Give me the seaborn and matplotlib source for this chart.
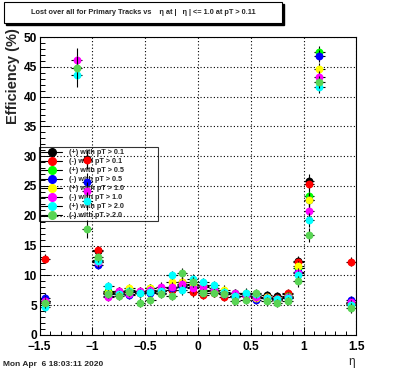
import matplotlib
matplotlib.use('Agg')
import matplotlib.pyplot as plt
import matplotlib.patches as patches
from matplotlib.lines import Line2D
import numpy as np
import pandas as pd
import seaborn as sns

nan = np.nan

# bin centres in eta
eta = [-1.45, -1.35, -1.25, -1.15, -1.05, -0.95, -0.85, -0.75, -0.65, -0.55,
       -0.45, -0.35, -0.25, -0.15, -0.05, 0.05, 0.15, 0.25, 0.35, 0.45,
       0.55, 0.65, 0.75, 0.85, 0.95, 1.05, 1.15, 1.25, 1.35, 1.45]
eta_err = [0.8, 0, 0, 2.0, 1.5, 0.8, 0.7, 0.7, 0.7, 0.7,
           0.7, 0.7, 0.7, 0.8, 0.8, 0.7, 0.7, 0.7, 0.7, 0.7,
           0.7, 0.7, 0.7, 0.7, 0.9, 1.2, 1.0, 0, 0, 0.8]

pos_01 = [5.6, nan, nan, nan, 29.6, 14.1, 7.2, 7.1, 7.3, 7.2,
          7.3, 7.5, 7.6, 8.2, 8.0, 7.4, 7.3, 7.0, 6.6, 6.8,
          6.4, 6.7, 6.5, 6.9, 12.4, 25.8, nan, nan, nan, 5.3]
neg_01 = [12.8, nan, nan, nan, 29.3, 14.2, 7.0, 7.4, 7.2, 7.0,
          7.4, 7.3, 7.6, 8.9, 7.2, 6.7, 7.0, 6.3, 6.5, 6.6,
          6.3, 6.3, 6.2, 7.0, 12.2, 25.3, nan, nan, nan, 12.3]
pos_05 = [5.6, nan, nan, nan, nan, 12.6, 7.3, 7.0, 7.5, 7.1,
          7.8, 7.1, 8.0, 8.3, 8.3, 7.6, 7.8, 7.0, 7.0, 6.9,
          6.5, 6.2, 6.0, 6.5, 11.2, 23.3, 47.5, nan, nan, 5.3]
neg_05 = [6.2, nan, nan, nan, 25.7, 11.8, 6.6, 6.8, 6.7, 7.2,
          7.0, 7.0, 7.9, 8.0, 8.4, 8.3, 7.6, 6.8, 6.3, 6.8,
          5.8, 6.1, 5.9, 6.2, 10.6, 22.7, 46.8, nan, nan, 5.8]
pos_10 = [5.5, nan, nan, nan, nan, 12.3, 7.1, 7.2, 7.9, 7.4,
          7.9, 7.3, 8.9, 8.9, 8.6, 8.2, 7.4, 7.6, 6.6, 7.0,
          6.2, 6.4, 5.8, 6.4, 11.5, 22.7, 44.7, nan, nan, 5.2]
neg_10 = [5.7, nan, nan, 46.2, 24.2, 12.2, 6.4, 7.4, 6.9, 7.4,
          7.5, 8.1, 8.1, 8.5, 7.8, 8.1, 7.6, 6.9, 7.0, 6.6,
          6.4, 6.2, 6.0, 6.4, 10.4, 20.8, 43.3, nan, nan, 5.5]
pos_20 = [4.7, nan, nan, 43.6, 22.5, 12.4, 8.2, 6.9, 7.3, 7.0,
          7.2, 7.3, 10.0, 7.5, 9.4, 8.9, 8.3, 7.2, 6.5, 7.1,
          6.9, 6.1, 6.0, 6.1, 10.0, 19.3, 41.6, nan, nan, 5.0]
neg_20 = [5.3, nan, nan, 44.9, 17.8, 13.0, 6.9, 6.5, 7.2, 5.4,
          5.9, 6.8, 6.5, 10.4, 8.9, 7.0, 7.0, 6.8, 5.7, 5.8,
          7.0, 5.6, 5.3, 5.7, 9.0, 16.8, 42.4, nan, nan, 4.5]

labels = ['(+) with pT > 0.1', '(-) with pT > 0.1', '(+) with pT > 0.5', '(-) with pT > 0.5',
          '(+) with pT > 1.0', '(-) with pT > 1.0', '(+) with pT > 2.0', '(-) with pT > 2.0']
series = [pos_01, neg_01, pos_05, neg_05, pos_10, neg_10, pos_20, neg_20]
colors = ['#000000', '#ff0000', '#00ff00', '#0000ff', '#ffff00', '#ff00ff', '#00ffff', '#59d454']

frames = []
for lab, vals in zip(labels, series):
    frames.append(pd.DataFrame({'eta': eta, 'eff': vals, 'err': eta_err, 'series': lab}))
df = pd.concat(frames).dropna()

sns.set_style('ticks')
plt.rcParams['font.family'] = ['Liberation Sans', 'DejaVu Sans']
plt.rcParams['font.weight'] = 'bold'

fig = plt.figure(figsize=(3.96, 3.72), dpi=100)
ax = fig.add_axes([0.1, 0.1, 0.8, 0.8])

for i, (lab, c) in enumerate(zip(labels, colors)):
    sub = df[df['series'] == lab]
    ax.errorbar(sub['eta'], sub['eff'], xerr=0.05, yerr=sub['err'], fmt='none',
                ecolor='black', elinewidth=0.8, capsize=0, zorder=10 + 2 * i)
    sns.scatterplot(data=sub, x='eta', y='eff', color=c, s=32, linewidth=0,
                    legend=False, zorder=11 + 2 * i, ax=ax)

ax.set_xlim(-1.5, 1.5)
ax.set_ylim(0, 50)
ax.set_xticks([-1.5, -1, -0.5, 0, 0.5, 1, 1.5])
ax.set_xticklabels(['\u22121.5', '\u22121', '\u22120.5', '0', '0.5', '1', '1.5'])
ax.set_yticks(np.arange(0, 51, 5))
ax.set_yticklabels([str(v) for v in range(0, 51, 5)])
ax.set_xticks(np.arange(-1.5, 1.51, 0.1), minor=True)
ax.set_yticks(np.arange(0, 51, 1), minor=True)
ax.tick_params(axis='both', which='both', direction='in', top=False, right=False,
               labelsize=8.6, width=0.7, colors='black')
ax.tick_params(axis='y', which='major', length=7, pad=2)
ax.tick_params(axis='y', which='minor', length=3.5)
ax.tick_params(axis='x', which='major', length=6, pad=4.6)
ax.tick_params(axis='x', which='minor', length=3)
for lab in ax.get_xticklabels() + ax.get_yticklabels():
    lab.set_fontweight('bold')
ax.grid(True, which='major', color='black', linestyle=(0, (1, 2)), linewidth=0.8)
for sp in ax.spines.values():
    sp.set_visible(True)
    sp.set_linewidth(0.8)
    sp.set_color('black')
ax.set_xlabel('')
ax.set_ylabel('')

handles = [Line2D([0], [0], color='black', lw=0.8, marker='o', markersize=5.5,
                  markerfacecolor=c, markeredgecolor=c) for c in colors]
leg = ax.legend(handles, labels, loc='upper left',
                bbox_to_anchor=(39 / 396, 1 - 223 / 372, 119 / 396, 76 / 372),
                bbox_transform=fig.transFigure, mode='expand', borderaxespad=0,
                fontsize=5.2, frameon=True, fancybox=False, edgecolor='black',
                facecolor='none', handlelength=2.9, handletextpad=0.9,
                labelspacing=0.27, borderpad=0.3)
leg.get_frame().set_linewidth(0.8)
leg.set_zorder(5)
for t in leg.get_texts():
    t.set_fontweight('bold')

# title box with shadow
fig.patches.append(patches.Rectangle((6 / 396, 1 - 25 / 372), 278 / 396, 21 / 372,
                                     transform=fig.transFigure, facecolor='black',
                                     edgecolor='black', zorder=1))
fig.patches.append(patches.Rectangle((4 / 396, 1 - 23 / 372), 278 / 396, 21 / 372,
                                     transform=fig.transFigure, facecolor='white',
                                     edgecolor='black', linewidth=0.8, zorder=2))
fig.text(143 / 396, 1 - 12.5 / 372,
         'Lost over all for Primary Tracks vs    \u03b7 at |   \u03b7 | <= 1.0 at pT > 0.11',
         ha='center', va='center', fontsize=5.3, fontweight='bold', zorder=3)

fig.text(13 / 396, 1 - 28 / 372, 'Efficiency (%)', rotation=90, ha='center', va='top',
         fontsize=10.5, fontweight='bold')
fig.text(352 / 396, 1 - 361.5 / 372, '\u03b7', ha='center', va='center', fontsize=8.5,
         fontweight='normal')
fig.text(3 / 396, 1 - 365 / 372, 'Mon Apr  6 18:03:11 2020', ha='left', va='center',
         fontsize=6, fontweight='bold')

fig.savefig('out.png', dpi=100)
